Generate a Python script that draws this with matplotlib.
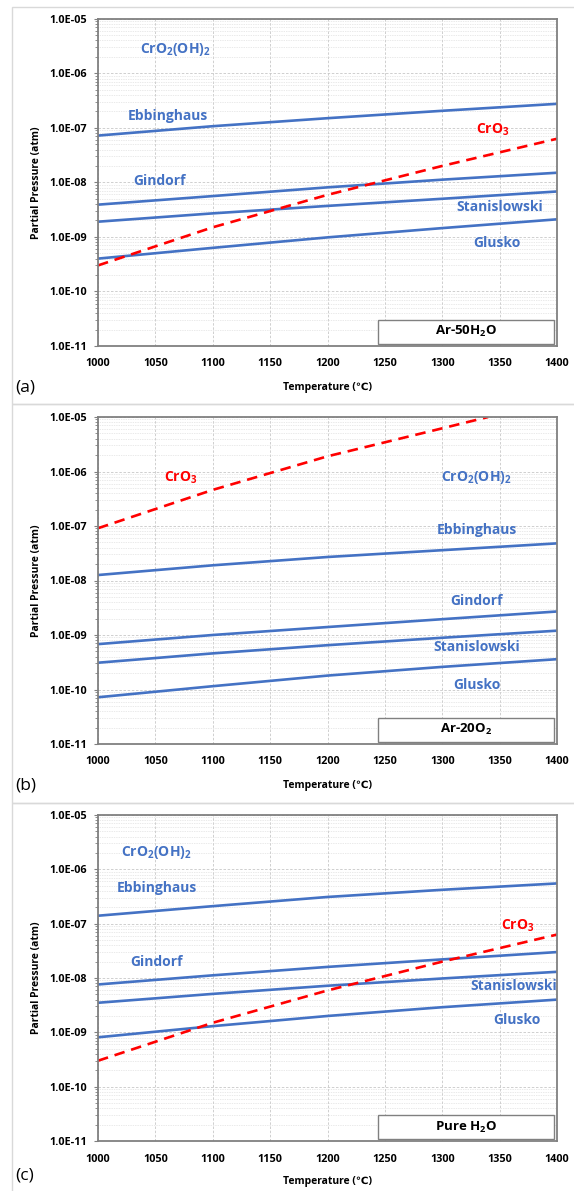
import numpy as np
import matplotlib
matplotlib.use("Agg")
import matplotlib.pyplot as plt
from matplotlib.patches import Rectangle
from matplotlib.ticker import LogLocator, FuncFormatter, NullFormatter

plt.rcParams['font.family'] = ['Open Sans', 'DejaVu Sans']
plt.rcParams['mathtext.fontset'] = 'custom'
plt.rcParams['mathtext.rm'] = 'Open Sans'
plt.rcParams['mathtext.bf'] = 'Open Sans:bold'
plt.rcParams['mathtext.default'] = 'bf'

BLUE = '#4472C4'
RED = '#FF0000'

# temperatures (C)
temps = [1000, 1100, 1200, 1300, 1400]

# (a) Ar-50H2O
a_ebb = [7.2e-8, 1.07e-7, 1.5e-7, 2.05e-7, 2.75e-7]
a_gin = [3.9e-9, 5.6e-9, 8.1e-9, 1.12e-8, 1.5e-8]
a_sta = [1.9e-9, 2.7e-9, 3.7e-9, 5.0e-9, 6.8e-9]
a_glu = [4.0e-10, 6.3e-10, 9.8e-10, 1.45e-9, 2.1e-9]
a_cro3 = [3.0e-10, 1.5e-9, 5.9e-9, 2.0e-8, 6.3e-8]

# (b) Ar-20O2
b_ebb = [1.26e-8, 1.9e-8, 2.7e-8, 3.6e-8, 4.8e-8]
b_gin = [6.8e-10, 1.0e-9, 1.4e-9, 1.95e-9, 2.7e-9]
b_sta = [3.1e-10, 4.6e-10, 6.5e-10, 8.9e-10, 1.2e-9]
b_glu = [7.2e-11, 1.15e-10, 1.8e-10, 2.6e-10, 3.6e-10]
b_cro3_t = [1000, 1100, 1200, 1300, 1340]
b_cro3 = [9.1e-8, 4.6e-7, 1.9e-6, 6.2e-6, 1.0e-5]

# (c) Pure H2O
c_ebb = [1.4e-7, 2.1e-7, 3.1e-7, 4.2e-7, 5.5e-7]
c_gin = [7.6e-9, 1.12e-8, 1.6e-8, 2.2e-8, 3.0e-8]
c_sta = [3.5e-9, 5.1e-9, 7.2e-9, 9.8e-9, 1.3e-8]
c_glu = [8.1e-10, 1.3e-9, 2.0e-9, 2.9e-9, 4.0e-9]
c_cro3 = [3.0e-10, 1.5e-9, 5.9e-9, 2.0e-8, 6.3e-8]

names = ['CrO$_2$(OH)$_2$', 'Ebbinghaus', 'Gindorf', 'Stanislowski', 'Glusko', 'CrO$_3$']

# label anchor positions (T, P) per panel, in the order of names
a_lab = [(1067, 2.7e-6), (1061, 1.65e-7), (1054, 1.07e-8), (1350, 3.5e-9), (1348, 7.6e-10), (1344, 9.1e-8)]
b_lab = [(1330, 7.8e-7), (1330, 8.3e-8), (1330, 4.2e-9), (1330, 6.0e-10), (1330, 1.2e-10), (1072, 7.8e-7)]
c_lab = [(1051, 2.0e-6), (1051, 4.5e-7), (1051, 1.95e-8), (1362, 7.2e-9), (1365, 1.66e-9), (1366, 9.1e-8)]

tags = ['Ar-50H$_2$O', 'Ar-20O$_2$', 'Pure H$_2$O']
letters = ['(a)', '(b)', '(c)']

W, H = 574, 1191
fig = plt.figure(figsize=(W / 100, H / 100), dpi=100)

# light panel frames
for y0, y1 in [(7, 404), (404, 803), (803, 1195)]:
    fig.patches.append(Rectangle((12 / W, 1 - y1 / H), 600 / W, (y1 - y0) / H,
                                 transform=fig.transFigure, fill=False,
                                 edgecolor='#d9d9d9', lw=1.0))

axes_px = [(18.7, 346), (417, 744), (815, 1141)]
letter_dy = [42, 42, 34]
xlab_pad = [9, 9, 8]
panels = [
    (temps, [a_ebb, a_gin, a_sta, a_glu], temps, a_cro3, a_lab),
    (temps, [b_ebb, b_gin, b_sta, b_glu], b_cro3_t, b_cro3, b_lab),
    (temps, [c_ebb, c_gin, c_sta, c_glu], temps, c_cro3, c_lab),
]

for i, (top, bot) in enumerate(axes_px):
    ax = fig.add_axes([98 / W, 1 - bot / H, 459 / W, (bot - top) / H])
    t, blues, rt, red, labs = panels[i]
    for s in blues:
        ax.plot(t, s, color=BLUE, lw=1.9, solid_capstyle='butt')
    ax.plot(rt, red, color=RED, lw=1.9, ls=(0, (4, 2.6)))

    ax.set_yscale('log')
    ax.set_xlim(1000, 1400)
    ax.set_ylim(1e-11, 1e-5)
    ax.set_xticks(range(1000, 1401, 50))
    ax.yaxis.set_major_locator(LogLocator(base=10, numticks=10))
    ax.yaxis.set_minor_locator(LogLocator(base=10, subs=np.arange(2, 10), numticks=20))
    ax.yaxis.set_major_formatter(FuncFormatter(lambda v, p: f"{v:.1E}"))
    ax.yaxis.set_minor_formatter(NullFormatter())

    ax.grid(True, which='major', axis='both', color='#c8c8c8', lw=0.6, ls=(0, (3, 2)))
    ax.grid(True, which='minor', axis='y', color='#d4d4d4', lw=0.5, ls=(0, (1, 1.5)))
    ax.set_axisbelow(True)

    for sp in ax.spines.values():
        sp.set_color('#808080')
        sp.set_linewidth(1.3)
    ax.tick_params(axis='both', which='major', direction='out', length=3,
                   width=0.8, color='#808080', labelsize=7.8, pad=5)
    ax.tick_params(axis='y', which='minor', direction='out', length=2,
                   width=0.6, color='#808080')
    ax.tick_params(axis='x', which='major', length=0, pad=9)
    for lab in ax.get_xticklabels() + ax.get_yticklabels():
        lab.set_fontweight('bold')

    ax.set_xlabel('Temperature (\u2103)', fontsize=7.5, fontweight='bold', labelpad=xlab_pad[i])
    ax.set_ylabel('Partial Pressure (atm)', fontsize=7.5, fontweight='bold', labelpad=5)

    for j, (tx, py) in enumerate(labs):
        ax.text(tx, py, names[j], color=RED if j == 5 else BLUE,
                fontsize=10, fontweight='bold', ha='center', va='center')

    ax.add_patch(Rectangle((0.61, 0.006), 0.383, 0.074, transform=ax.transAxes,
                           facecolor='white', edgecolor='#808080', lw=1.0, zorder=5))
    ax.text(0.8015, 0.043, tags[i], transform=ax.transAxes, fontsize=9.5,
            fontweight='bold', ha='center', va='center', zorder=6)

    fig.text(15 / W, 1 - (bot + letter_dy[i]) / H, letters[i], fontsize=12.5,
             ha='left', va='center')

fig.savefig('out.png', dpi=100)
